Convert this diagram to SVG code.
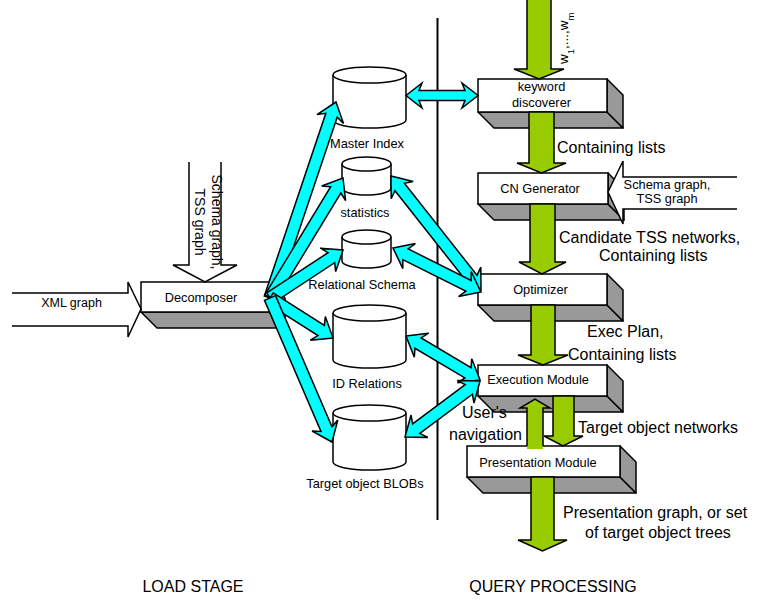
<svg xmlns="http://www.w3.org/2000/svg" width="757" height="600" viewBox="0 0 757 600">
  <style>
    text { font-family: "Liberation Sans", Arial, sans-serif; fill: #000; }
    .front { fill: #fff; stroke: #000; stroke-width: 1.5; }
    .side { fill: #999; stroke: #000; stroke-width: 1.5; stroke-linejoin: round; }
    .db { fill: #fff; stroke: #000; stroke-width: 1.5; }
    .box-label { font-size: 12.8px; text-anchor: middle; }
    .db-label { font-size: 12.8px; text-anchor: middle; }
    .big { font-size: 16px; }
    .cyan { fill: #00ffff; stroke: #000; stroke-width: 1.5; stroke-linejoin: miter; }
    .green { fill: #99cc00; stroke: #000; stroke-width: 1.5; }
    .green-fill { fill: #99cc00; stroke: none; }
    .hollow-fill { fill: #fff; stroke: none; }
    .outline { fill: none; stroke: #000; stroke-width: 1.5; }
  </style>

  <!-- section divider -->
  <line x1="437.5" y1="18" x2="437.5" y2="520" stroke="#000" stroke-width="2"/>

  <g id="nodes">
    <!-- Decomposer -->
    <g id="decomposer">
      <polygon class="side" points="141,312 157,328 285,328 269,312"/>
      <polygon class="side" points="269,282 285,298 285,328 269,312"/>
      <rect class="front" x="141" y="282" width="128" height="30"/>
      <text class="box-label" x="201" y="302">Decomposer</text>
    </g>

    <!-- storage -->
    <g id="master-index">
      <path class="db" d="M333,75 A36.5,8 0 0 1 406,75 L406,120 A36.5,8 0 0 1 333,120 Z"/>
      <path class="outline" d="M333,75 A36.5,8 0 0 0 406,75"/>
      <text class="db-label" x="367" y="148">Master Index</text>
    </g>
    <g id="statistics">
      <path class="db" d="M342,164 A24.5,7 0 0 1 391,164 L391,188 A24.5,7 0 0 1 342,188 Z"/>
      <path class="outline" d="M342,164 A24.5,7 0 0 0 391,164"/>
      <text class="db-label" x="365" y="217">statistics</text>
    </g>
    <g id="relational-schema">
      <path class="db" d="M342,237 A24.5,7 0 0 1 391,237 L391,261 A24.5,7 0 0 1 342,261 Z"/>
      <path class="outline" d="M342,237 A24.5,7 0 0 0 391,237"/>
      <text class="db-label" x="362" y="289">Relational Schema</text>
    </g>
    <g id="id-relations">
      <path class="db" d="M333,313 A36.5,8 0 0 1 406,313 L406,360 A36.5,8 0 0 1 333,360 Z"/>
      <path class="outline" d="M333,313 A36.5,8 0 0 0 406,313"/>
      <text class="db-label" x="367" y="388">ID Relations</text>
    </g>
    <g id="target-blobs">
      <path class="db" d="M333,413 A36.5,8 0 0 1 406,413 L406,462 A36.5,8 0 0 1 333,462 Z"/>
      <path class="outline" d="M333,413 A36.5,8 0 0 0 406,413"/>
      <text class="db-label" x="365" y="488">Target object BLOBs</text>
    </g>

    <!-- query pipeline -->
    <g id="keyword-discoverer">
      <polygon class="side" points="478,112 494,128 623,128 607,112"/>
      <polygon class="side" points="607,79 623,95 623,128 607,112"/>
      <rect class="front" x="478" y="79" width="129" height="33"/>
      <text class="box-label" x="541.5" y="91">keyword</text>
      <text class="box-label" x="541.5" y="107">discoverer</text>
    </g>
    <g id="cn-generator">
      <polygon class="side" points="478,204 494,220 624,220 608,204"/>
      <polygon class="side" points="608,173 624,189 624,220 608,204"/>
      <rect class="front" x="478" y="173" width="130" height="31"/>
      <text class="box-label" x="540" y="193">CN Generator</text>
    </g>
    <g id="optimizer">
      <polygon class="side" points="478,305 494,321 623,321 607,305"/>
      <polygon class="side" points="607,274 623,290 623,321 607,305"/>
      <rect class="front" x="478" y="274" width="129" height="31"/>
      <text class="box-label" x="540.5" y="294">Optimizer</text>
    </g>
    <g id="execution-module">
      <polygon class="side" points="478,396 494,412 623,412 607,396"/>
      <polygon class="side" points="607,365 623,381 623,412 607,396"/>
      <rect class="front" x="478" y="365" width="129" height="31"/>
      <text class="box-label" x="538" y="384">Execution Module</text>
    </g>
    <g id="presentation-module">
      <polygon class="side" points="467,477 483,493 636,493 620,477"/>
      <polygon class="side" points="620,446 636,462 636,493 620,477"/>
      <rect class="front" x="467" y="446" width="153" height="31"/>
      <text class="box-label" x="538" y="467">Presentation Module</text>
    </g>
  </g>

  <g id="connectors">
    <!-- inputs to the decomposer -->
    <path class="hollow-fill" d="M12,293 H128 V282 L141,309 L128,337 V326 H12 Z"/>
    <path class="outline" d="M12,293 H128 V282 L141,309 L128,337 V326 H12"/>
    <path class="hollow-fill" d="M189,162 V265 H173 L205,282 L237,265 H221 V162 Z"/>
    <path class="outline" d="M189,162 V265 H173 L205,282 L237,265 H221 V162"/>

    <!-- schema input to the CN generator -->
    <path class="hollow-fill" d="M737,177 H623 V161 L608,192 L623,224 V209 H737 Z"/>
    <path class="outline" d="M737,177 H623 V161 L608,192 L623,224 V209 H737"/>

    <!-- decomposer to storage -->
    <path class="cyan" transform="translate(270,298) rotate(-71.4)" d="M0,-6 H192.8 L188.8,-14 L206.8,0 L188.8,14 L192.8,6 H0 Z"/>
    <path class="cyan" transform="translate(270,298) rotate(-58.7)" d="M0,-6 H126.5 L122.5,-14 L140.5,0 L122.5,14 L126.5,6 H0 Z"/>
    <path class="cyan" transform="translate(270,298) rotate(-33.3)" d="M0,-6 H73.4 L69.4,-14 L87.4,0 L69.4,14 L73.4,6 H0 Z"/>
    <path class="cyan" transform="translate(270,298) rotate(32.4)" d="M0,-6 H60.6 L56.6,-14 L74.6,0 L56.6,14 L60.6,6 H0 Z"/>
    <path class="cyan" transform="translate(270,298) rotate(66.7)" d="M0,-6 H142.8 L138.8,-14 L156.8,0 L138.8,14 L142.8,6 H0 Z"/>

    <!-- storage to query pipeline (two-way) -->
    <path class="cyan" transform="translate(406,95.5)" d="M0,0 L16,-12.5 L13,-5 H59 L56,-12.5 L72,0 L56,12.5 L59,5 H13 L16,12.5 Z"/>
    <path class="cyan" transform="translate(391,176) rotate(51.7)" d="M0,0 L18,-14 L14,-6 H131.2 L127.2,-14 L145.2,0 L127.2,14 L131.2,6 H14 L18,14 Z"/>
    <path class="cyan" transform="translate(393,248) rotate(26.6)" d="M0,0 L18,-14 L14,-6 H84.4 L80.4,-14 L98.4,0 L80.4,14 L84.4,6 H14 L18,14 Z"/>
    <path class="cyan" transform="translate(406,336) rotate(30.7)" d="M0,0 L18,-14 L14,-6 H72.1 L68.1,-14 L86.1,0 L68.1,14 L72.1,6 H14 L18,14 Z"/>
    <path class="cyan" transform="translate(405,437) rotate(-36.7)" d="M0,0 L18,-14 L14,-6 H79.6 L75.6,-14 L93.6,0 L75.6,14 L79.6,6 H14 L18,14 Z"/>

    <!-- query pipeline flow -->
    <path class="green" d="M527,-2 V69 H514 L539,79 L564,69 H551 V-2 Z"/>
    <path class="green" d="M529,112 V163 H517 L541.5,173 L566,163 H554 V112 Z"/>
    <path class="green" d="M530,204 V262 H519 L542,274 L566,262 H555 V204 Z"/>
    <path class="green" d="M531,305 V355 H518 L543,365 L568,355 H555 V305 Z"/>
    <path class="green" d="M553,396 V436 H544 L563,446 L583,436 H574 V396 Z"/>
    <path class="green-fill" d="M527,449 V408 H520 L535,399 L550,408 H543 V449 Z"/>
    <path class="outline" d="M527,446 V408 H520 L535,399 L550,408 H543 V446"/>
    <path class="green" d="M531,477 V540 H518 L542.5,551 L567,540 H554 V477 Z"/>
  </g>

  <g id="labels">
    <text class="box-label" x="71.5" y="307" style="font-size:12.5px">XML graph</text>
    <text style="font-size:14px" text-anchor="middle" transform="translate(212,222) rotate(90)">Schema graph,</text>
    <text style="font-size:14px" text-anchor="middle" transform="translate(195,222) rotate(90)">TSS graph</text>
    <text style="font-size:12.8px" text-anchor="middle" x="667" y="189">Schema graph,</text>
    <text style="font-size:12.8px" text-anchor="middle" x="667" y="203">TSS graph</text>
    <text style="font-size:13.5px" transform="translate(568,64) rotate(-90)">w<tspan baseline-shift="sub" style="font-size:9.5px">1</tspan>,...,w<tspan baseline-shift="sub" style="font-size:9.5px">m</tspan></text>
    <text class="big" x="557" y="153">Containing lists</text>
    <text class="big" x="559" y="243">Candidate TSS networks,</text>
    <text class="big" x="599" y="261">Containing lists</text>
    <text class="big" x="587" y="337">Exec Plan,</text>
    <text class="big" x="568" y="360">Containing lists</text>
    <text class="big" x="462" y="418">User's</text>
    <text class="big" x="449" y="440">navigation</text>
    <text class="big" x="578" y="433">Target object networks</text>
    <text class="big" x="563" y="518">Presentation graph, or set</text>
    <text class="big" x="585" y="538">of target object trees</text>
    <text class="big" x="193" y="592" text-anchor="middle">LOAD STAGE</text>
    <text class="big" x="553" y="592" text-anchor="middle">QUERY PROCESSING</text>
  </g>
</svg>
